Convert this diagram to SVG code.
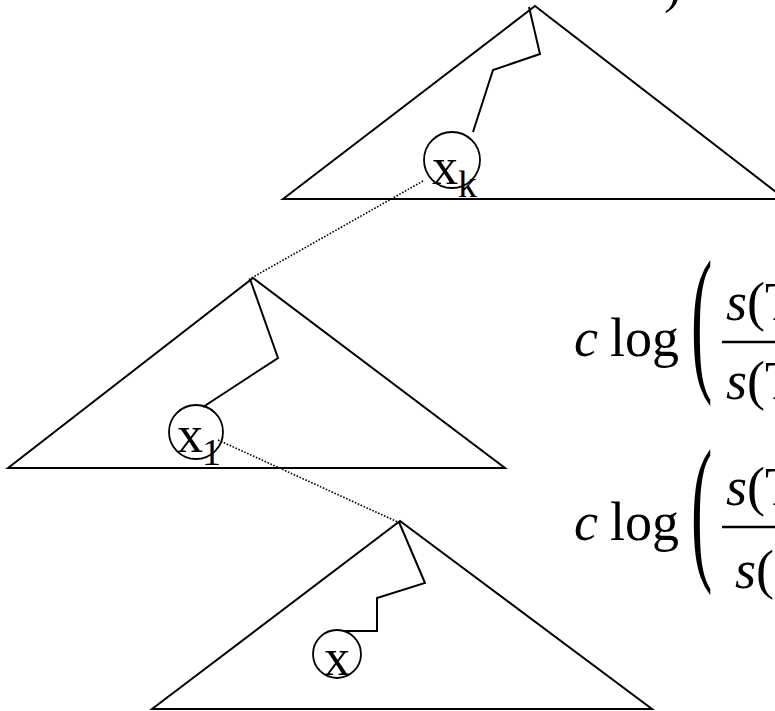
<svg xmlns="http://www.w3.org/2000/svg" width="775" height="711" viewBox="0 0 775 711">
<style>
.edge{fill:none;stroke:#000;stroke-width:2;stroke-linejoin:miter}
.dot{fill:none;stroke:#000;stroke-width:1.6;stroke-dasharray:1.6 1.6}
.circ{fill:none;stroke:#000;stroke-width:1.8}
.t{font-family:"Liberation Serif","Times New Roman",serif;fill:#000}
.it{font-style:italic}
</style>
<rect width="775" height="711" fill="#fff"/>
<text class="t" x="664" y="2" font-size="52">)</text>
<g id="tree-top">
<path class="edge" d="M283,199 L535,6 L785,199 Z"/>
<path class="edge" d="M529,7 L540,54 L493,70 L473,132"/>
<circle class="circ" cx="452" cy="160" r="28"/>
<text class="t" x="432" y="184" font-size="52">x</text>
<text class="t" x="458" y="197" font-size="38">k</text>
</g>
<g id="tree-middle">
<path class="edge" d="M8,468 L253,278 L505,468 Z"/>
<path class="edge" d="M250,279 L278,358 L203,407"/>
<circle class="circ" cx="196" cy="432" r="27"/>
<text class="t" x="177" y="452" font-size="52">x</text>
<text class="t" x="202" y="465" font-size="38">1</text>
</g>
<g id="tree-bottom">
<path class="edge" d="M152,709 L400,521 L652,709 Z"/>
<path class="edge" d="M399,522 L425,583 L377,598 L377,631 L345,631"/>
<circle class="circ" cx="337" cy="654" r="24"/>
<text class="t" x="324" y="675" font-size="52">x</text>
</g>
<g id="connectors">
<path class="dot" d="M423,181 L248,280"/>
<path class="dot" d="M218,440 L400,523"/>
</g>
<g id="formula-1">
<text class="t it" x="574" y="356" font-size="54">c</text>
<text class="t" x="610" y="356" font-size="54">log</text>
<text class="t" font-size="160" transform="translate(691,372) scale(0.4,1)">(</text>
<text class="t it" x="726" y="320" font-size="54">s<tspan font-style="normal">(T</tspan></text>
<line x1="722" y1="342" x2="775" y2="342" stroke="#000" stroke-width="2.5"/>
<text class="t it" x="726" y="399" font-size="54">s<tspan font-style="normal">(T</tspan></text>
</g>
<g id="formula-2">
<text class="t it" x="574" y="540" font-size="54">c</text>
<text class="t" x="610" y="540" font-size="54">log</text>
<text class="t" font-size="160" transform="translate(691,561) scale(0.4,1)">(</text>
<text class="t it" x="726" y="505" font-size="54">s<tspan font-style="normal">(T</tspan></text>
<line x1="722" y1="527" x2="775" y2="527" stroke="#000" stroke-width="2.5"/>
<text class="t it" x="735" y="588" font-size="54">s<tspan font-style="normal">(T</tspan></text>
</g>
</svg>
